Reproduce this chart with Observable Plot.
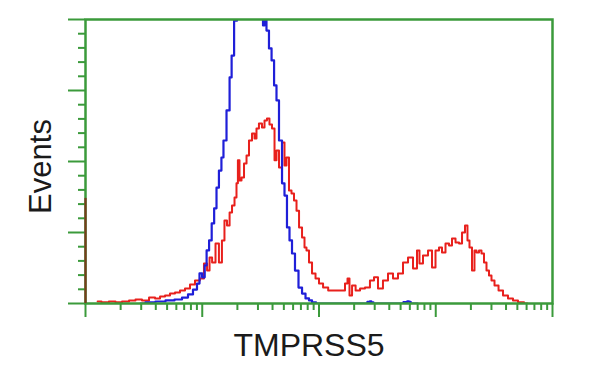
<!DOCTYPE html>
<html>
<head>
<meta charset="utf-8">
<script src="https://cdn.jsdelivr.net/npm/d3@7"></script>
<script src="https://cdn.jsdelivr.net/npm/@observablehq/plot@0.6"></script>
<style>
  html, body { margin: 0; padding: 0; background: #fff; }
  #chart { width: 600px; height: 375px; }
</style>
</head>
<body>
<div id="chart"></div>
<script>
// Fluorescence intensity (log scale) and event counts
const xLabel = "TMPRSS5";
const yLabel = "Events";

// Red: stained sample
const redIntensity = [1.27,1.48,1.70,1.92,2.20,2.53,2.84,3.27,3.75,4.14,4.57,5.04,5.56,6.14,6.77,7.48,8.25,9.1,10.0,10.7,11.3,11.8,12.5,13.5,14.3,15.2,15.8,16.8,17.5,18.5,19.3,20.0,20.4,21.3,22.1,23.5,24.4,25.9,27.5,28.6,29.7,31.5,33.5,34.8,36.9,38.4,40.8,42.4,44.1,46.8,49.7,51.6,53.7,57.0,59.3,62.9,65.5,69.5,73.7,76.6,79.7,84.6,89.8,97.1,103,114,126,144,162,172,179,186,198,214,236,260,287,305,336,371,410,452,499,551,608,671,711,740,817,902,957,1035,1099,1164,1262,1337,1420,1536,1630,1730,1833,1906,1985,2105,2189,2278,2418,2513,2669,2773,2943,3062,3315,3590,3957,4368,4819,5321,6108];
const redCount = [0.7,0.4,0.7,0.4,0.7,1.1,1.4,1.1,2.1,1.8,2.5,2.8,3.5,3.9,4.6,5.3,6.7,8.1,8.8,14.1,11.6,16.2,14.4,21.1,14.4,22.2,29.2,27.5,32.0,34.5,37.3,42.3,50.4,43.3,44.4,49.3,52.1,57.4,59.9,58.1,61.6,63.4,62.0,64.4,65.1,63.0,61.6,50.4,53.9,47.9,56.7,48.6,51.4,39.8,38.7,36.3,32.7,26.8,23.2,19.7,18.7,14.4,10.6,8.8,7.0,5.6,4.6,4.6,4.6,7.0,8.8,2.8,6.3,4.6,5.3,5.6,8.1,9.2,5.3,8.1,10.6,8.8,10.6,14.4,16.2,12.3,18.7,14.1,16.9,18.7,12.7,18.7,19.7,18.0,21.1,20.4,22.9,21.5,21.1,25.0,27.5,22.2,19.7,11.6,18.7,18.0,18.7,17.6,14.4,11.6,9.9,8.1,6.3,4.6,2.8,1.8,1.1,0.4,0];
// Red off-scale first channel
const redSpikeIntensity = [1];
const redSpikeCount = [37];

// Blue: isotype control
const blueIntensity = [2.96,3.60,4.39,5.35,6.26,7.19,7.93,8.75,9.29,9.66,10.3,10.7,11.1,11.8,12.3,13.0,13.5,14.3,14.9,15.5,16.8,17.5,18.2,19.3,20.4,23.5,26.9,30.3,32.8,33.5,34.8,36.2,38.4,40.1,42.4,44.1,46.8,49.7,51.6,54.8,57.0,60.5,64.1,69.5,73.7,79.7,84.6,89.8,99,150,250,270,276,285,300,500,560,580,600,620,700];
const blueCount = [0,0.4,0.7,1.1,1.4,2.1,3.2,4.9,7.0,10.6,9.2,13.4,18.7,22.2,28.2,33.5,40.8,46.8,51.4,57.4,68.0,79.6,87.3,99.6,110,121,123,118,100.4,97.9,101,96.1,89.8,85.6,76.8,71.5,57.4,42.3,38.0,26.8,22.2,17.6,11.6,5.6,3.5,1.8,1.1,0.4,0,0,0,0.6,0.8,0.4,0,0,0.5,0.8,0.6,0,0];

const yMajorTicks = [0, 25, 50, 75, 100];
const yMinorTicks = [5,10,15,20,30,35,40,45,55,60,65,70,80,85,90,95];
const xMajorTicks = [1, 10, 100, 1000, 10000];
const xMinorTicks = [2,3,4,5,6,7,8,9,20,30,40,50,60,70,80,90,200,300,400,500,600,700,800,900,2000,3000,4000,5000,6000,7000,8000,9000];

const red = redIntensity.map((x, i) => ({x, y: redCount[i]}));
const blue = blueIntensity.map((x, i) => ({x, y: blueCount[i]}));
const spike = redSpikeIntensity.map((x, i) => ({x, y: redSpikeCount[i]}));

const green = "#3b9a3b";
const font = "'Liberation Sans', Arial, sans-serif";

const chart = Plot.plot({
  width: 600,
  height: 375,
  marginLeft: 85,
  marginRight: 48,
  marginTop: 19,
  marginBottom: 72,
  style: {fontFamily: font, background: "#fff"},
  x: {type: "log", domain: [1, 10000]},
  y: {domain: [0, 100]},
  marks: [
    Plot.line(red, {x: "x", y: "y", stroke: "#e8201c", strokeWidth: 2, curve: "step", clip: true}),
    Plot.line(blue, {x: "x", y: "y", stroke: "#1f1fd8", strokeWidth: 2.2, curve: "step", clip: true}),
    Plot.axisY(yMajorTicks, {anchor: "left", tickSize: 17, stroke: green, strokeWidth: 2, fill: "none", label: null}),
    Plot.axisY(yMinorTicks, {anchor: "left", tickSize: 7, stroke: green, strokeWidth: 2, fill: "none", label: null}),
    Plot.axisX(xMajorTicks, {anchor: "bottom", tickSize: 14, stroke: green, strokeWidth: 2, fill: "none", label: null}),
    Plot.axisX(xMinorTicks, {anchor: "bottom", tickSize: 7, stroke: green, strokeWidth: 2, fill: "none", label: null}),
    Plot.frame({stroke: green, strokeWidth: 2.5}),
    Plot.ruleX(spike, {x: "x", y1: 0, y2: "y", stroke: "#7a3a1c", strokeWidth: 2.2}),
    Plot.text([yLabel], {frameAnchor: "left", textAnchor: "middle", dx: -44, dy: 5, rotate: -90, fontSize: 31, fill: "#1a1a1a", fontFamily: font}),
    Plot.text([xLabel], {frameAnchor: "bottom", textAnchor: "middle", lineAnchor: "bottom", dx: -10, dy: 52, fontSize: 32, fill: "#1a1a1a", fontFamily: font})
  ]
});
document.getElementById("chart").appendChild(chart);
</script>
</body>
</html>
